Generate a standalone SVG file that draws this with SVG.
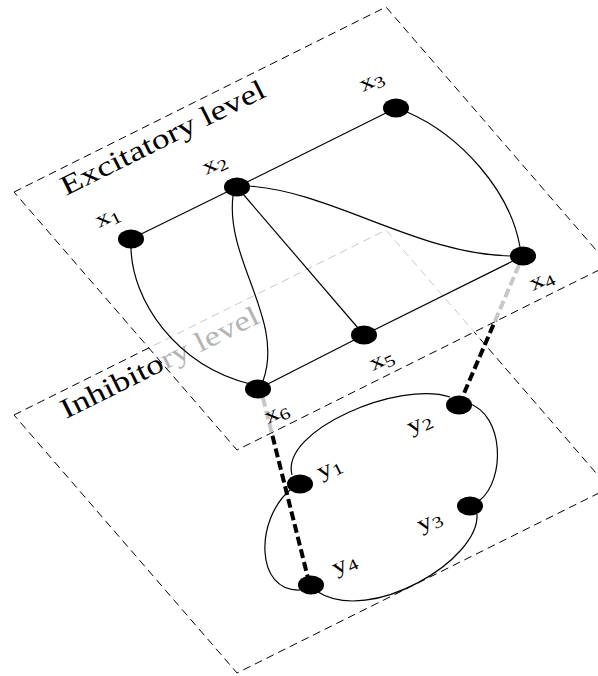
<svg xmlns="http://www.w3.org/2000/svg" width="598" height="676" viewBox="0 0 598 676">
  <style>
    .plane { fill: none; stroke-width: 1; stroke-dasharray: 8 5; }
    .edge { fill: none; stroke: #000; stroke-width: 1.2; }
    .link { fill: none; stroke-width: 4; stroke-dasharray: 9 4; }
    .node { fill: #000; }
    .title { font-family: "Liberation Serif", "Times New Roman", serif; font-size: 28px; }
    .lbl { font-family: "Liberation Serif", "Times New Roman", serif; font-size: 22px; fill: #000; }
    .sub { font-family: "Liberation Serif", "Times New Roman", serif; font-size: 16px; fill: #000; }
  </style>
  <defs>
    <!-- area covered by the upper (excitatory) plane -->
    <clipPath id="underTop">
      <polygon points="14,192 386,7 609,265 237,450"/>
    </clipPath>
    <!-- everything outside the upper plane -->
    <clipPath id="outsideTop">
      <path clip-rule="evenodd" d="M-20,-20H640V700H-20Z M14,192 L386,7 L609,265 L237,450Z"/>
    </clipPath>
  </defs>
  <rect width="598" height="676" fill="#fff"/>

  <!-- lower plane: parts hidden by the upper plane are drawn grey -->
  <g id="inhibitory-plane">
    <g clip-path="url(#outsideTop)">
      <polygon class="plane" stroke="#000" points="14,415 386,230 609,488 237,673"/>
      <g>
        <text class="title" fill="#000" transform="translate(66,419) rotate(-26.4)" textLength="218" lengthAdjust="spacingAndGlyphs">Inhibitory level</text>
      </g>
    </g>
    <g clip-path="url(#underTop)">
      <polygon class="plane" stroke="#c8c8c8" points="14,415 386,230 609,488 237,673"/>
      <g>
        <text class="title" fill="#b4b4b4" transform="translate(66,419) rotate(-26.4)" textLength="218" lengthAdjust="spacingAndGlyphs">Inhibitory level</text>
      </g>
    </g>
  </g>

  <!-- upper plane -->
  <g id="excitatory-plane">
    <polygon class="plane" stroke="#000" points="14,192 386,7 609,265 237,450"/>
    <text class="title" fill="#000" transform="translate(66,196) rotate(-26.4)" textLength="225" lengthAdjust="spacingAndGlyphs">Excitatory level</text>
  </g>

  <!-- connectors -->
  <g id="connectors">
    <!-- links between the two levels -->
    <g clip-path="url(#underTop)">
      <line class="link" stroke="#c8c8c8" x1="263" y1="398" x2="308" y2="578"/>
      <line class="link" stroke="#c8c8c8" x1="519" y1="265" x2="462" y2="398"/>
    </g>
    <g clip-path="url(#outsideTop)">
      <line class="link" stroke="#000" x1="263" y1="398" x2="308" y2="578"/>
      <line class="link" stroke="#000" x1="519" y1="265" x2="462" y2="398"/>
    </g>

    <!-- excitatory edges -->
    <line class="edge" x1="131" y1="239" x2="237" y2="187"/>
    <line class="edge" x1="237" y1="187" x2="396" y2="108"/>
    <line class="edge" x1="237" y1="187" x2="364" y2="335"/>
    <line class="edge" x1="364" y1="335" x2="523" y2="256"/>
    <line class="edge" x1="258" y1="389" x2="364" y2="335"/>
    <path class="edge" d="M131,248 C132,300 175,365 250,384"/>
    <path class="edge" d="M233,196 C225,260 285,320 263,381"/>
    <path class="edge" d="M247,186 C330,190 420,256 513,256"/>
    <path class="edge" d="M407,112 C460,135 510,190 520,247"/>

    <!-- inhibitory ring -->
    <path class="edge" d="M292,475 C280,430 400,380 450,397"/>
    <path class="edge" d="M468,403 C505,415 505,480 480,500"/>
    <path class="edge" d="M477,514 C480,560 370,625 318,592"/>
    <path class="edge" d="M300,590 C255,592 255,520 290,490"/>
  </g>

  <!-- nodes; each label is laid along the plane direction -->
  <g id="x1"><ellipse class="node" cx="131" cy="239" rx="13" ry="9.5"/>
    <g transform="translate(99,228) rotate(-26.4) scale(1.3,1)"><text class="lbl">x</text><text class="sub" x="11" y="4">1</text></g></g>
  <g id="x2"><ellipse class="node" cx="237" cy="187" rx="13" ry="9.5"/>
    <g transform="translate(206,175) rotate(-26.4) scale(1.3,1)"><text class="lbl">x</text><text class="sub" x="11" y="4">2</text></g></g>
  <g id="x3"><ellipse class="node" cx="396" cy="108" rx="13" ry="9.5"/>
    <g transform="translate(363,92) rotate(-26.4) scale(1.3,1)"><text class="lbl">x</text><text class="sub" x="11" y="4">3</text></g></g>
  <g id="x4"><ellipse class="node" cx="523" cy="256" rx="13" ry="9.5"/>
    <g transform="translate(533,291) rotate(-26.4) scale(1.3,1)"><text class="lbl">x</text><text class="sub" x="11" y="4">4</text></g></g>
  <g id="x5"><ellipse class="node" cx="364" cy="335" rx="13" ry="9.5"/>
    <g transform="translate(373,371) rotate(-26.4) scale(1.3,1)"><text class="lbl">x</text><text class="sub" x="11" y="4">5</text></g></g>
  <g id="x6"><ellipse class="node" cx="258" cy="389" rx="13" ry="9.5"/>
    <g transform="translate(268,424) rotate(-26.4) scale(1.3,1)"><text class="lbl">x</text><text class="sub" x="11" y="4">6</text></g></g>
  <g id="y1"><ellipse class="node" cx="300" cy="484" rx="13" ry="9.5"/>
    <g transform="translate(321,479) rotate(-26.4) scale(1.3,1)"><text class="lbl">y</text><text class="sub" x="11" y="4">1</text></g></g>
  <g id="y2"><ellipse class="node" cx="459" cy="405" rx="13" ry="9.5"/>
    <g transform="translate(411,434) rotate(-26.4) scale(1.3,1)"><text class="lbl">y</text><text class="sub" x="11" y="4">2</text></g></g>
  <g id="y3"><ellipse class="node" cx="470" cy="506" rx="13" ry="9.5"/>
    <g transform="translate(421,532) rotate(-26.4) scale(1.3,1)"><text class="lbl">y</text><text class="sub" x="11" y="4">3</text></g></g>
  <g id="y4"><ellipse class="node" cx="311" cy="585" rx="13" ry="9.5"/>
    <g transform="translate(336,575) rotate(-26.4) scale(1.3,1)"><text class="lbl">y</text><text class="sub" x="11" y="4">4</text></g></g>
</svg>
